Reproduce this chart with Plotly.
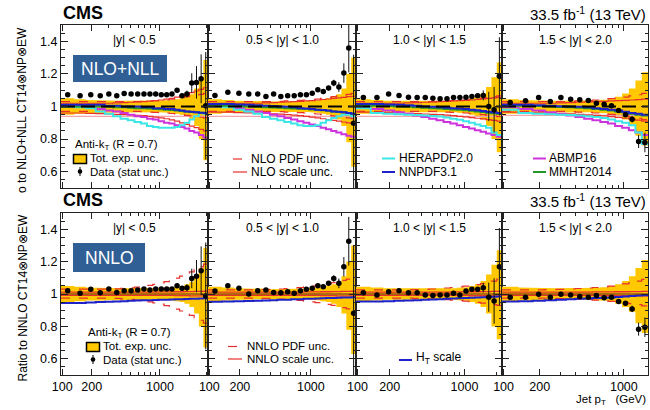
import numpy as np
import plotly.graph_objects as go

# ---------------- data ----------------
EDGES = [97, 133, 174, 220, 272, 330, 395, 468, 548, 638, 737, 846, 967, 1101,
         1248, 1410, 1588, 1784, 2000, 2238, 2500, 2787, 3103]
NBINS = [22, 21, 19, 16]
RAP_LABELS = ["|y| < 0.5", "0.5 < |y| < 1.0", "1.0 < |y| < 1.5", "1.5 < |y| < 2.0"]
X_TICKS = [100, 200, 1000]
X_TICKTEXT = ["100", "200", "1000"]
X_MINOR = [300, 400, 500, 600, 700, 800, 900, 2000, 3000]
Y_TICKS = [0.6, 0.8, 1.0, 1.2, 1.4]
Y_TICKTEXT = ["0.6", "0.8", "1", "1.2", "1.4"]
Y_MINOR = [0.55, 0.65, 0.7, 0.75, 0.85, 0.9, 0.95, 1.05, 1.1, 1.15, 1.25, 1.3, 1.35, 1.45]

DATA_NLO = [
    [1.072, 1.066, 1.072, 1.066, 1.076, 1.066, 1.08, 1.076, 1.076, 1.076, 1.076, 1.076, 1.072, 1.072, 1.076, 1.10, 1.066, 1.076, 1.144, 1.148, 1.17, 1.004],
    [1.068, 1.088, 1.082, 1.076, 1.076, 1.062, 1.076, 1.062, 1.066, 1.066, 1.072, 1.072, 1.082, 1.103, 1.092, 1.113, 1.144, 1.119, 1.205, 1.359, 0.898],
    [1.055, 1.055, 1.076, 1.068, 1.057, 1.055, 1.055, 1.051, 1.047, 1.047, 1.055, 1.055, 1.057, 1.062, 1.066, 1.068, 1.0, 0.98, 1.185],
    [1.025, 1.035, 1.055, 1.031, 1.055, 1.045, 1.041, 1.037, 1.02, 1.014, 1.004, 0.975, 0.949, 0.922, 0.785, 0.779],
]
DATA_NNLO = [
    [1.02, 1.004, 1.029, 1.008, 1.031, 1.01, 1.02, 1.02, 1.025, 1.031, 1.025, 1.031, 1.031, 1.031, 1.031, 1.051, 1.035, 1.039, 1.096, 1.11, 1.144, 0.988],
    [1.018, 1.051, 1.035, 1.0, 1.02, 1.025, 1.01, 1.008, 1.014, 1.004, 1.02, 1.029, 1.035, 1.051, 1.045, 1.066, 1.096, 1.066, 1.168, 1.326, 0.881],
    [1.008, 0.994, 1.014, 1.02, 1.008, 1.008, 0.994, 0.99, 0.994, 0.994, 1.004, 0.994, 1.018, 1.029, 1.029, 1.039, 0.98, 0.957, 1.168],
    [0.98, 0.98, 0.998, 0.98, 0.998, 0.994, 0.984, 0.98, 0.99, 0.977, 0.98, 0.953, 0.943, 0.908, 0.783, 0.795],
]
STAT_ERR = [
    [0.003, 0.003, 0.003, 0.003, 0.003, 0.003, 0.003, 0.003, 0.003, 0.004, 0.004, 0.005, 0.005, 0.006, 0.008, 0.011, 0.015, 0.022, 0.06, 0.1, 0.15, 0.33],
    [0.003, 0.003, 0.003, 0.003, 0.003, 0.003, 0.003, 0.003, 0.004, 0.004, 0.005, 0.005, 0.006, 0.008, 0.01, 0.014, 0.02, 0.03, 0.06, 0.15, 0.42],
    [0.003, 0.003, 0.003, 0.003, 0.003, 0.003, 0.003, 0.004, 0.004, 0.005, 0.005, 0.006, 0.008, 0.01, 0.014, 0.03, 0.09, 0.14, 0.24],
    [0.003, 0.003, 0.003, 0.003, 0.003, 0.004, 0.004, 0.005, 0.005, 0.006, 0.008, 0.01, 0.013, 0.02, 0.04, 0.06],
]
EXP_UP = [
    [0.05, 0.045, 0.04, 0.04, 0.038, 0.036, 0.035, 0.035, 0.035, 0.035, 0.035, 0.035, 0.036, 0.038, 0.04, 0.045, 0.05, 0.06, 0.075, 0.11, 0.16, 0.285],
    [0.045, 0.04, 0.035, 0.035, 0.033, 0.032, 0.03, 0.03, 0.03, 0.03, 0.032, 0.034, 0.036, 0.04, 0.045, 0.05, 0.06, 0.075, 0.11, 0.2, 0.3],
    [0.045, 0.04, 0.035, 0.035, 0.035, 0.033, 0.032, 0.032, 0.032, 0.033, 0.035, 0.038, 0.042, 0.05, 0.06, 0.08, 0.12, 0.18, 0.27],
    [0.045, 0.04, 0.038, 0.036, 0.035, 0.035, 0.035, 0.035, 0.038, 0.042, 0.05, 0.06, 0.08, 0.11, 0.16, 0.21],
]
EXP_DN = [
    [0.05, 0.045, 0.04, 0.04, 0.038, 0.036, 0.035, 0.035, 0.035, 0.035, 0.035, 0.035, 0.036, 0.038, 0.04, 0.045, 0.05, 0.06, 0.08, 0.12, 0.2, 0.33],
    [0.045, 0.04, 0.035, 0.035, 0.033, 0.032, 0.03, 0.03, 0.03, 0.03, 0.032, 0.034, 0.036, 0.04, 0.045, 0.05, 0.06, 0.08, 0.12, 0.22, 0.37],
    [0.045, 0.04, 0.035, 0.035, 0.035, 0.033, 0.032, 0.032, 0.032, 0.033, 0.035, 0.038, 0.042, 0.05, 0.06, 0.08, 0.12, 0.2, 0.28],
    [0.045, 0.04, 0.038, 0.036, 0.035, 0.035, 0.035, 0.035, 0.038, 0.042, 0.05, 0.06, 0.08, 0.11, 0.18, 0.24],
]
HERAPDF = [
    [1.0, 0.995, 0.99, 0.97, 0.955, 0.94, 0.925, 0.915, 0.905, 0.895, 0.88, 0.875, 0.87, 0.87, 0.87, 0.875, 0.885, 0.9, 0.92, 0.94, 0.96, 0.955],
    [1.0, 0.995, 0.98, 0.97, 0.955, 0.935, 0.925, 0.915, 0.905, 0.895, 0.885, 0.88, 0.88, 0.885, 0.9, 0.915, 0.93, 0.94, 0.95, 0.95, 0.94],
    [0.99, 0.96, 0.955, 0.952, 0.95, 0.948, 0.945, 0.942, 0.938, 0.932, 0.925, 0.918, 0.91, 0.9, 0.89, 0.88, 0.87, 0.84, 0.825],
    [0.98, 0.96, 0.955, 0.952, 0.95, 0.948, 0.945, 0.94, 0.935, 0.93, 0.92, 0.91, 0.9, 0.885, 0.84, 0.77],
]
ABMP = [
    [1.0, 1.0, 0.995, 0.985, 0.975, 0.97, 0.96, 0.95, 0.94, 0.935, 0.925, 0.92, 0.91, 0.9, 0.895, 0.885, 0.875, 0.865, 0.85, 0.84, 0.825, 0.81],
    [1.0, 1.0, 0.99, 0.98, 0.97, 0.96, 0.95, 0.94, 0.93, 0.92, 0.91, 0.9, 0.89, 0.88, 0.87, 0.86, 0.85, 0.84, 0.83, 0.82, 0.815],
    [0.995, 0.985, 0.975, 0.965, 0.955, 0.945, 0.935, 0.925, 0.915, 0.905, 0.895, 0.885, 0.875, 0.865, 0.855, 0.845, 0.835, 0.825, 0.815],
    [0.995, 0.985, 0.975, 0.965, 0.955, 0.945, 0.935, 0.925, 0.915, 0.905, 0.895, 0.88, 0.87, 0.855, 0.84, 0.825],
]
NNPDF = [
    [1.01, 1.01, 1.01, 1.01, 1.005, 1.005, 1.0, 1.0, 1.0, 0.995, 0.995, 0.99, 0.99, 0.985, 0.985, 0.98, 0.975, 0.97, 0.968, 0.965, 0.962, 0.96],
    [1.015, 1.015, 1.012, 1.01, 1.008, 1.005, 1.003, 1.0, 0.998, 0.995, 0.99, 0.988, 0.985, 0.98, 0.978, 0.975, 0.97, 0.968, 0.965, 0.96, 0.955],
    [1.015, 1.015, 1.012, 1.01, 1.008, 1.005, 1.0, 0.998, 0.995, 0.992, 0.99, 0.987, 0.984, 0.98, 0.977, 0.972, 0.968, 0.964, 0.96],
    [1.01, 1.01, 1.008, 1.005, 1.002, 1.0, 0.998, 0.995, 0.99, 0.985, 0.98, 0.975, 0.968, 0.96, 0.955, 0.95],
]
MMHT = [
    [1.0, 1.0, 1.0, 1.0, 0.998, 0.996, 0.995, 0.993, 0.99, 0.99, 0.988, 0.985, 0.983, 0.98, 0.978, 0.975, 0.972, 0.97, 0.967, 0.965, 0.962, 0.96],
    [1.005, 1.005, 1.003, 1.0, 0.998, 0.996, 0.994, 0.992, 0.99, 0.988, 0.986, 0.984, 0.982, 0.98, 0.977, 0.974, 0.97, 0.967, 0.964, 0.96, 0.955],
    [1.005, 1.005, 1.003, 1.0, 0.998, 0.995, 0.993, 0.99, 0.988, 0.985, 0.982, 0.98, 0.977, 0.974, 0.97, 0.966, 0.962, 0.958, 0.955],
    [1.005, 1.005, 1.003, 1.0, 0.997, 0.995, 0.992, 0.99, 0.985, 0.98, 0.975, 0.97, 0.965, 0.955, 0.95, 0.945],
]
NLO_PDF_UP = [
    [1.03, 1.03, 1.03, 1.03, 1.03, 1.03, 1.03, 1.03, 1.03, 1.032, 1.034, 1.036, 1.038, 1.04, 1.045, 1.05, 1.055, 1.06, 1.065, 1.07, 1.075, 1.08],
    [1.03, 1.03, 1.03, 1.03, 1.03, 1.03, 1.03, 1.032, 1.034, 1.036, 1.038, 1.04, 1.043, 1.046, 1.05, 1.055, 1.06, 1.065, 1.07, 1.075, 1.08],
    [1.03, 1.03, 1.03, 1.03, 1.03, 1.03, 1.03, 1.03, 1.032, 1.034, 1.036, 1.038, 1.04, 1.043, 1.046, 1.05, 1.055, 1.06, 1.065],
    [1.03, 1.03, 1.03, 1.03, 1.03, 1.032, 1.034, 1.036, 1.04, 1.044, 1.048, 1.053, 1.058, 1.065, 1.072, 1.08],
]
NLO_PDF_DN = [
    [0.97, 0.97, 0.97, 0.97, 0.97, 0.97, 0.97, 0.97, 0.97, 0.968, 0.966, 0.964, 0.962, 0.96, 0.957, 0.954, 0.95, 0.946, 0.942, 0.938, 0.934, 0.93],
    [0.97, 0.97, 0.97, 0.97, 0.97, 0.97, 0.97, 0.968, 0.966, 0.964, 0.962, 0.96, 0.957, 0.954, 0.95, 0.946, 0.942, 0.938, 0.934, 0.93, 0.926],
    [0.97, 0.97, 0.97, 0.97, 0.97, 0.97, 0.97, 0.97, 0.968, 0.966, 0.964, 0.962, 0.96, 0.957, 0.954, 0.95, 0.946, 0.942, 0.938],
    [0.97, 0.97, 0.97, 0.97, 0.97, 0.968, 0.966, 0.964, 0.96, 0.956, 0.952, 0.947, 0.942, 0.935, 0.928, 0.92],
]
NLO_SCALE_UP = [
    [1.02, 1.02, 1.02, 1.02, 1.02, 1.022, 1.024, 1.026, 1.028, 1.03, 1.033, 1.036, 1.04, 1.045, 1.05, 1.057, 1.065, 1.075, 1.085, 1.095, 1.105, 1.115],
    [1.02, 1.02, 1.02, 1.02, 1.02, 1.022, 1.024, 1.026, 1.028, 1.03, 1.032, 1.034, 1.036, 1.04, 1.043, 1.046, 1.05, 1.053, 1.056, 1.06, 1.063],
    [1.02, 1.02, 1.02, 1.02, 1.022, 1.024, 1.026, 1.028, 1.03, 1.032, 1.034, 1.036, 1.038, 1.04, 1.043, 1.046, 1.05, 1.053, 1.056],
    [1.02, 1.02, 1.02, 1.02, 1.022, 1.024, 1.026, 1.028, 1.03, 1.032, 1.034, 1.036, 1.038, 1.04, 1.042, 1.045],
]
NLO_SCALE_DN = [
    [0.96, 0.96, 0.958, 0.956, 0.954, 0.952, 0.95, 0.948, 0.946, 0.944, 0.94, 0.935, 0.93, 0.925, 0.918, 0.91, 0.9, 0.89, 0.88, 0.87, 0.86, 0.85],
    [0.965, 0.965, 0.963, 0.961, 0.959, 0.957, 0.955, 0.953, 0.95, 0.947, 0.944, 0.94, 0.935, 0.93, 0.925, 0.92, 0.915, 0.91, 0.905, 0.9, 0.895],
    [0.965, 0.964, 0.962, 0.96, 0.958, 0.956, 0.954, 0.952, 0.95, 0.947, 0.944, 0.94, 0.936, 0.932, 0.928, 0.924, 0.92, 0.915, 0.91],
    [0.965, 0.963, 0.961, 0.959, 0.957, 0.955, 0.952, 0.949, 0.946, 0.942, 0.938, 0.933, 0.928, 0.922, 0.916, 0.91],
]
NLO_SCALE_ALT = [
    [0.94, 0.94, 0.94, 0.94, 0.94, 0.94, 0.94, 0.94, 0.94, 0.94, 0.94, 0.94, 0.94, 0.94, 0.94, 0.94, 0.94, 0.94, 0.94, 0.94, 0.94, 0.94],
    [0.94, 0.94, 0.94, 0.94, 0.94, 0.94, 0.94, 0.94, 0.94, 0.94, 0.94, 0.94, 0.94, 0.94, 0.94, 0.94, 0.94, 0.94, 0.94, 0.935, 0.93],
    [0.94, 0.94, 0.94, 0.94, 0.94, 0.94, 0.94, 0.94, 0.94, 0.94, 0.94, 0.94, 0.94, 0.94, 0.94, 0.94, 0.94, 0.94, 0.94],
    [0.945, 0.945, 0.945, 0.945, 0.945, 0.945, 0.945, 0.945, 0.945, 0.945, 0.945, 0.945, 0.945, 0.945, 0.945, 0.945],
]
NNLO_PDF_UP = [
    [1.03, 1.03, 1.03, 1.03, 1.03, 1.032, 1.035, 1.038, 1.042, 1.047, 1.053, 1.06, 1.068, 1.077, 1.087, 1.098, 1.11, 1.123, 1.137, 1.152, 1.168, 1.185],
    [1.025, 1.025, 1.025, 1.025, 1.025, 1.027, 1.029, 1.031, 1.034, 1.037, 1.04, 1.044, 1.048, 1.053, 1.058, 1.064, 1.07, 1.077, 1.084, 1.092, 1.1],
    [1.025, 1.025, 1.025, 1.025, 1.025, 1.027, 1.029, 1.031, 1.034, 1.037, 1.04, 1.044, 1.048, 1.053, 1.058, 1.064, 1.07, 1.08, 1.092],
    [1.025, 1.025, 1.025, 1.027, 1.029, 1.031, 1.034, 1.037, 1.04, 1.044, 1.049, 1.055, 1.062, 1.07, 1.08, 1.09],
]
NNLO_PDF_DN = [
    [0.975, 0.975, 0.975, 0.975, 0.975, 0.973, 0.97, 0.967, 0.963, 0.958, 0.952, 0.945, 0.937, 0.928, 0.918, 0.907, 0.895, 0.882, 0.868, 0.853, 0.838, 0.82],
    [0.975, 0.975, 0.975, 0.975, 0.975, 0.973, 0.971, 0.969, 0.966, 0.963, 0.96, 0.956, 0.952, 0.947, 0.942, 0.936, 0.93, 0.923, 0.916, 0.908, 0.9],
    [0.975, 0.975, 0.975, 0.975, 0.975, 0.973, 0.971, 0.969, 0.967, 0.965, 0.962, 0.959, 0.956, 0.952, 0.948, 0.944, 0.94, 0.935, 0.93],
    [0.975, 0.975, 0.975, 0.974, 0.972, 0.97, 0.968, 0.965, 0.962, 0.959, 0.955, 0.951, 0.946, 0.94, 0.934, 0.927],
]
NNLO_SCALE_UP = [
    [1.012, 1.012, 1.012, 1.012, 1.012, 1.012, 1.012, 1.012, 1.012, 1.012, 1.012, 1.012, 1.013, 1.013, 1.013, 1.014, 1.014, 1.015, 1.015, 1.016, 1.016, 1.017],
    [1.012, 1.012, 1.012, 1.012, 1.012, 1.012, 1.012, 1.012, 1.012, 1.012, 1.012, 1.013, 1.013, 1.013, 1.014, 1.014, 1.015, 1.015, 1.016, 1.016, 1.017],
    [1.012, 1.012, 1.012, 1.012, 1.012, 1.012, 1.012, 1.012, 1.012, 1.012, 1.013, 1.013, 1.013, 1.014, 1.014, 1.015, 1.015, 1.016, 1.016],
    [1.012, 1.012, 1.012, 1.012, 1.012, 1.012, 1.012, 1.012, 1.013, 1.013, 1.013, 1.014, 1.014, 1.015, 1.015, 1.016],
]
NNLO_SCALE_DN = [
    [0.992, 0.992, 0.992, 0.992, 0.992, 0.992, 0.992, 0.992, 0.992, 0.992, 0.992, 0.992, 0.991, 0.991, 0.991, 0.99, 0.99, 0.99, 0.989, 0.989, 0.988, 0.988],
    [0.992, 0.992, 0.992, 0.992, 0.992, 0.992, 0.992, 0.992, 0.992, 0.992, 0.992, 0.991, 0.991, 0.991, 0.99, 0.99, 0.99, 0.989, 0.989, 0.988, 0.988],
    [0.992, 0.992, 0.992, 0.992, 0.992, 0.992, 0.992, 0.992, 0.992, 0.992, 0.991, 0.991, 0.991, 0.99, 0.99, 0.99, 0.989, 0.989, 0.988],
    [0.992, 0.992, 0.992, 0.992, 0.992, 0.992, 0.992, 0.992, 0.991, 0.991, 0.991, 0.99, 0.99, 0.99, 0.989, 0.989],
]
HT_SCALE = [
    [0.945, 0.945, 0.948, 0.95, 0.952, 0.954, 0.956, 0.958, 0.96, 0.961, 0.962, 0.963, 0.964, 0.965, 0.966, 0.967, 0.968, 0.969, 0.97, 0.971, 0.972, 0.973],
    [0.952, 0.953, 0.955, 0.957, 0.958, 0.96, 0.962, 0.964, 0.965, 0.967, 0.968, 0.97, 0.971, 0.972, 0.974, 0.975, 0.976, 0.977, 0.978, 0.979, 0.98],
    [0.953, 0.954, 0.956, 0.958, 0.96, 0.962, 0.964, 0.966, 0.968, 0.97, 0.972, 0.974, 0.976, 0.977, 0.978, 0.98, 0.982, 0.983, 0.985],
    [0.953, 0.955, 0.958, 0.961, 0.964, 0.967, 0.97, 0.972, 0.975, 0.977, 0.979, 0.982, 0.984, 0.987, 0.99, 0.993],
]

# ---------------- style ----------------
FONT = "Liberation Sans, Arial, Helvetica, sans-serif"
YELLOW = "#ffc800"
RED = "#e8302c"
PINK = "#f3a3aa"
CYAN = "#3ce6e6"
BLUE = "#1f22c8"
MAGENTA = "#cc33dd"
GREEN = "#22962a"
BOXBLUE = "#2f5f95"

W, H = 650, 410
L, R, T, B = 61, 2, 25, 35
PW, PH = W - L - R, H - T - B


def fx(x):
    return (x - L) / PW


def fy(y):
    return (H - B - y) / PH


COL_PX = [61, 208, 356, 502, 648]
ROW_PX = [(25, 188), (213, 375)]

fig = go.Figure()
layout = dict(width=W, height=H, margin=dict(l=L, r=R, t=T, b=B, pad=0),
              paper_bgcolor="white", plot_bgcolor="white", showlegend=False,
              font=dict(family=FONT, size=12, color="black"))

for r in range(2):
    for c in range(4):
        i = r * 4 + c + 1
        sfx = "" if i == 1 else str(i)
        nb = NBINS[c]
        layout["xaxis" + sfx] = dict(
            domain=[fx(COL_PX[c]), fx(COL_PX[c + 1])], anchor="y" + sfx,
            type="log", range=[np.log10(EDGES[0]), np.log10(EDGES[nb])],
            showgrid=False, zeroline=False, showline=True, linecolor="#222", linewidth=1,
            mirror="ticks", ticks="inside", ticklen=6, tickcolor="#222",
            tickmode="array", tickvals=X_TICKS, ticktext=X_TICKTEXT,
            showticklabels=(r == 1), tickfont=dict(size=12.5, family=FONT),
            minor=dict(ticks="inside", ticklen=3, tickcolor="#222", tickmode="array",
                       tickvals=X_MINOR, showgrid=False),
            automargin=False)
        layout["yaxis" + sfx] = dict(
            domain=[fy(ROW_PX[r][1]), fy(ROW_PX[r][0])], anchor="x" + sfx,
            range=[0.5, 1.5], showgrid=False, zeroline=False, showline=True,
            linecolor="#222", linewidth=1, mirror="ticks", ticks="inside",
            ticklen=7, tickcolor="#222", tickmode="array", tickvals=Y_TICKS,
            ticktext=Y_TICKTEXT, showticklabels=(c == 0),
            tickfont=dict(size=12.5, family=FONT),
            minor=dict(ticks="inside", ticklen=3.5, tickcolor="#222", tickmode="array",
                       tickvals=Y_MINOR, showgrid=False),
            automargin=False)

        xa, ya = "x" + sfx, "y" + sfx
        edges = np.array(EDGES[:nb + 1], dtype=float)
        centers = np.sqrt(edges[:-1] * edges[1:])
        up = np.array(EXP_UP[c])
        dn = np.array(EXP_DN[c])
        ex = np.repeat(edges, 2)[1:-1]
        bx = np.concatenate([ex, ex[::-1]])
        by = np.concatenate([np.repeat(1 + up, 2), np.repeat(1 - dn, 2)[::-1]])
        fig.add_trace(go.Scatter(x=bx, y=by, fill="toself", fillcolor=YELLOW,
                                 line=dict(width=0), mode="lines", hoverinfo="skip",
                                 xaxis=xa, yaxis=ya))

        def step(vals, color, width, dash="solid"):
            v = list(vals) + [vals[-1]]
            fig.add_trace(go.Scatter(x=edges, y=v, mode="lines", line_shape="hv",
                                     line=dict(color=color, width=width, dash=dash),
                                     hoverinfo="skip", xaxis=xa, yaxis=ya))

        if r == 0:
            step(NLO_SCALE_ALT[c], PINK, 1.3)
            step(NLO_SCALE_DN[c], RED, 1.2)
            step(NLO_SCALE_UP[c], RED, 1.2)
            step(NLO_PDF_UP[c], RED, 1.2, "dash")
            step(NLO_PDF_DN[c], RED, 1.2, "dash")
            step(ABMP[c], MAGENTA, 2)
            step(HERAPDF[c], CYAN, 2)
            step(MMHT[c], GREEN, 2)
            step(NNPDF[c], BLUE, 2)
            fig.add_trace(go.Scatter(x=[edges[0], edges[-1]], y=[1, 1], mode="lines",
                                     line=dict(color="black", width=2, dash="14px,6px"),
                                     hoverinfo="skip", xaxis=xa, yaxis=ya))
            yv = DATA_NLO[c]
        else:
            step(NNLO_PDF_UP[c], RED, 1.2, "dash")
            step(NNLO_PDF_DN[c], RED, 1.2, "dash")
            step(NNLO_SCALE_UP[c], RED, 1.3)
            step(NNLO_SCALE_DN[c], RED, 1.3)
            step(HT_SCALE[c], BLUE, 2)
            fig.add_trace(go.Scatter(x=[edges[0], edges[-1]], y=[1, 1], mode="lines",
                                     line=dict(color="#5a1a10", width=1.2),
                                     hoverinfo="skip", xaxis=xa, yaxis=ya))
            yv = DATA_NNLO[c]
        fig.add_trace(go.Scatter(x=centers, y=yv, mode="markers",
                                 marker=dict(color="black", size=5.5),
                                 error_y=dict(type="data", array=STAT_ERR[c], thickness=1,
                                              width=0, color="#111"),
                                 hoverinfo="skip", xaxis=xa, yaxis=ya))

fig.update_layout(**layout)

ann = []
shapes = []


def text(x, y, s, size=12, xanchor="left", yanchor="middle", color="black", angle=0):
    ann.append(dict(x=fx(x), y=fy(y), xref="paper", yref="paper", text=s,
                    showarrow=False, xanchor=xanchor, yanchor=yanchor, textangle=angle,
                    font=dict(size=size, family=FONT, color=color)))


def hline(x0, x1, y, color, width, dash="solid"):
    shapes.append(dict(type="line", xref="paper", yref="paper", x0=fx(x0), x1=fx(x1),
                       y0=fy(y), y1=fy(y), line=dict(color=color, width=width, dash=dash)))


# headers
for yc in (13.5, 200):
    text(61, yc, "<b>CMS</b>", size=18)
    text(648, yc, "33.5 fb<sup>-1</sup> (13 TeV)", size=15, xanchor="right")

# rapidity labels
for r, yc in enumerate((40, 228)):
    for c in range(4):
        text((COL_PX[c] + COL_PX[c + 1]) / 2, yc, RAP_LABELS[c], size=12, xanchor="center")

# blue boxes
shapes.append(dict(type="rect", xref="paper", yref="paper", x0=fx(73), x1=fx(167),
                   y0=fy(82), y1=fy(55), fillcolor=BOXBLUE, line=dict(width=0)))
text(120, 68.5, "NLO+NLL", size=17.5, xanchor="center", color="white")
shapes.append(dict(type="rect", xref="paper", yref="paper", x0=fx(73), x1=fx(145),
                   y0=fy(272), y1=fy(243), fillcolor=BOXBLUE, line=dict(width=0)))
text(109, 257.5, "NNLO", size=17.5, xanchor="center", color="white")

# legend: panel 1
for (x0, yA) in ((73, 145), (86, 333)):
    text(x0, yA, "Anti-k<sub>T</sub> (R = 0.7)", size=11.5)
    shapes.append(dict(type="rect", xref="paper", yref="paper", x0=fx(x0 + 0.5), x1=fx(x0 + 13.5),
                       y0=fy(yA + 18.5), y1=fy(yA + 9.5), fillcolor=YELLOW,
                       line=dict(color="black", width=1.5)))
    text(x0 + 15, yA + 13, "Tot. exp. unc.", size=11.5)
    cx, cy = x0 + 7, yA + 26.5
    shapes.append(dict(type="line", xref="paper", yref="paper", x0=fx(cx), x1=fx(cx),
                       y0=fy(cy - 4.5), y1=fy(cy + 4.5), line=dict(color="black", width=1)))
    shapes.append(dict(type="circle", xref="paper", yref="paper", x0=fx(cx - 2.3), x1=fx(cx + 2.3),
                       y0=fy(cy + 2.3), y1=fy(cy - 2.3), fillcolor="black", line=dict(width=0)))
    text(x0 + 15, cy, "Data (stat unc.)", size=11.5)

# legend: panel 2
hline(233, 247, 159, RED, 1.2, "dash")
text(249, 158.5, "NLO PDF unc.", size=12)
hline(233, 247, 172, RED, 1.2)
text(249, 171.5, "NLO scale unc.", size=12)
hline(228, 242, 346.5, RED, 1.2, "dash")
text(245, 346, "NNLO PDF unc.", size=11.5)
hline(228, 242, 359, RED, 1.2)
text(245, 359, "NNLO scale unc.", size=11.5)

# legend: panel 3
hline(382, 395, 158.5, CYAN, 2)
text(397, 158, "HERAPDF2.0", size=12)
hline(382, 395, 172, BLUE, 2)
text(397, 171.5, "NNPDF3.1", size=12)
hline(399, 412, 360, BLUE, 2)
text(414, 358, "H<sub>T</sub> scale", size=12)

# legend: panel 4
hline(533, 546, 158.5, MAGENTA, 2)
text(547, 158, "ABMP16", size=12)
hline(533, 546, 172, GREEN, 2)
text(547, 171.5, "MMHT2014", size=12)

# axis titles
text(22, 25, "o to NLO+NLL CT14\u2297NP\u2297EW", size=12, xanchor="center", yanchor="top", angle=-90)
text(22, 213, "Ratio to NNLO CT14\u2297NP\u2297EW", size=12, xanchor="center", yanchor="top", angle=-90)
text(648, 400, "Jet p<sub>T</sub>\u00a0\u00a0\u00a0(GeV)", size=11.5, xanchor="right")

fig.update_layout(annotations=ann, shapes=shapes)
fig.write_html("out.html", config={"displayModeBar": False},
               post_script="document.body.style.margin='0';document.body.style.overflow='hidden';")
